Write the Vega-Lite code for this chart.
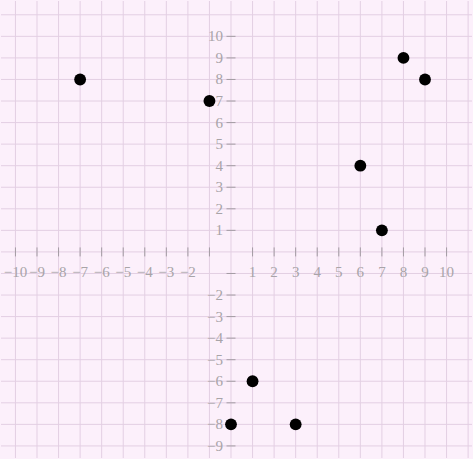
{
  "$schema": "https://vega.github.io/schema/vega-lite/v6.json",
  "width": 473,
  "height": 459,
  "autosize": {"type": "fit", "contains": "padding"},
  "padding": 0,
  "background": "#fcf0fb",
  "config": {"view": {"stroke": null}},
  "datasets": {
    "pts": [
      {"x": -7, "y": 8}, {"x": -1, "y": 7}, {"x": 8, "y": 9}, {"x": 9, "y": 8},
      {"x": 6, "y": 4}, {"x": 7, "y": 1}, {"x": 1, "y": -6}, {"x": 0, "y": -8}, {"x": 3, "y": -8}
    ],
    "gx": [
      {"v": -10}, {"v": -9}, {"v": -8}, {"v": -7}, {"v": -6}, {"v": -5}, {"v": -4}, {"v": -3}, {"v": -2}, {"v": -1}, {"v": 0},
      {"v": 1}, {"v": 2}, {"v": 3}, {"v": 4}, {"v": 5}, {"v": 6}, {"v": 7}, {"v": 8}, {"v": 9}, {"v": 10}, {"v": 11}
    ],
    "gy": [
      {"v": -9}, {"v": -8}, {"v": -7}, {"v": -6}, {"v": -5}, {"v": -4}, {"v": -3}, {"v": -2}, {"v": -1}, {"v": 0},
      {"v": 1}, {"v": 2}, {"v": 3}, {"v": 4}, {"v": 5}, {"v": 6}, {"v": 7}, {"v": 8}, {"v": 9}, {"v": 10}, {"v": 11}
    ],
    "xt": [
      {"v": -10, "label": "−10"}, {"v": -9, "label": "−9"}, {"v": -8, "label": "−8"}, {"v": -7, "label": "−7"},
      {"v": -6, "label": "−6"}, {"v": -5, "label": "−5"}, {"v": -4, "label": "−4"}, {"v": -3, "label": "−3"},
      {"v": -2, "label": "−2"}, {"v": -1, "label": ""}, {"v": 1, "label": "1"}, {"v": 2, "label": "2"},
      {"v": 3, "label": "3"}, {"v": 4, "label": "4"}, {"v": 5, "label": "5"}, {"v": 6, "label": "6"},
      {"v": 7, "label": "7"}, {"v": 8, "label": "8"}, {"v": 9, "label": "9"}, {"v": 10, "label": "10"}
    ],
    "yt": [
      {"v": 10, "label": "10"}, {"v": 9, "label": "9"}, {"v": 8, "label": "8"}, {"v": 7, "label": "7"},
      {"v": 6, "label": "6"}, {"v": 5, "label": "5"}, {"v": 4, "label": "4"}, {"v": 3, "label": "3"},
      {"v": 2, "label": "2"}, {"v": 1, "label": "1"}, {"v": -1, "label": ""}, {"v": -2, "label": "−2"},
      {"v": -3, "label": "−3"}, {"v": -4, "label": "−4"}, {"v": -5, "label": "−5"}, {"v": -6, "label": "−6"},
      {"v": -7, "label": "−7"}, {"v": -8, "label": "−8"}, {"v": -9, "label": "−9"}
    ]
  },
  "layer": [
    {
      "data": {"name": "gx"},
      "mark": {"type": "rule", "color": "#e3cfe3", "strokeWidth": 1},
      "encoding": {
        "x": {
          "field": "v", "type": "quantitative",
          "scale": {"domain": [-10.67, 11.18], "nice": false, "zero": false},
          "axis": null
        }
      }
    },
    {
      "data": {"name": "gy"},
      "mark": {"type": "rule", "color": "#e3cfe3", "strokeWidth": 1},
      "encoding": {
        "y": {
          "field": "v", "type": "quantitative",
          "scale": {"domain": [-9.56, 11.64], "nice": false, "zero": false},
          "axis": null
        }
      }
    },
    {
      "mark": {"type": "rule", "color": "#a39ca3", "strokeWidth": 1.3},
      "encoding": {"x": {"datum": 0, "type": "quantitative"}}
    },
    {
      "mark": {"type": "rule", "color": "#a39ca3", "strokeWidth": 1.3},
      "encoding": {"y": {"datum": 0, "type": "quantitative"}}
    },
    {
      "mark": {"type": "point", "shape": "M-1,-1L0,0L-1,1", "filled": false, "stroke": "#a39ca3", "strokeWidth": 1.2, "size": 64, "opacity": 1},
      "encoding": {"x": {"datum": 10.95, "type": "quantitative"}, "y": {"datum": 0, "type": "quantitative"}}
    },
    {
      "mark": {"type": "point", "shape": "M-1,1L0,0L1,1", "filled": false, "stroke": "#a39ca3", "strokeWidth": 1.2, "size": 64, "opacity": 1},
      "encoding": {"x": {"datum": 0, "type": "quantitative"}, "y": {"datum": 10.95, "type": "quantitative"}}
    },
    {
      "data": {"name": "xt"},
      "mark": {"type": "point", "shape": "M0,-1L0,1", "filled": false, "stroke": "#a39ca3", "strokeWidth": 1, "size": 81, "opacity": 1},
      "encoding": {"x": {"field": "v", "type": "quantitative"}, "y": {"datum": 0, "type": "quantitative"}}
    },
    {
      "data": {"name": "yt"},
      "mark": {"type": "point", "shape": "M-1,0L1,0", "filled": false, "stroke": "#a39ca3", "strokeWidth": 1, "size": 81, "opacity": 1},
      "encoding": {"y": {"field": "v", "type": "quantitative"}, "x": {"datum": 0, "type": "quantitative"}}
    },
    {
      "data": {"name": "xt"},
      "transform": [{"filter": "datum.label != ''"}],
      "mark": {"type": "text", "font": "Liberation Serif", "fontSize": 15, "color": "#a8a4a8", "dy": 20, "align": "center", "baseline": "middle"},
      "encoding": {"x": {"field": "v", "type": "quantitative"}, "y": {"datum": 0, "type": "quantitative"}, "text": {"field": "label"}}
    },
    {
      "data": {"name": "yt"},
      "transform": [{"filter": "datum.label != ''"}],
      "mark": {"type": "text", "font": "Liberation Serif", "fontSize": 15, "color": "#a8a4a8", "dx": -8, "align": "right", "baseline": "middle"},
      "encoding": {"y": {"field": "v", "type": "quantitative"}, "x": {"datum": 0, "type": "quantitative"}, "text": {"field": "label"}}
    },
    {
      "data": {"name": "pts"},
      "mark": {"type": "circle", "color": "#000000", "size": 140, "opacity": 1},
      "encoding": {"x": {"field": "x", "type": "quantitative"}, "y": {"field": "y", "type": "quantitative"}}
    }
  ]
}
